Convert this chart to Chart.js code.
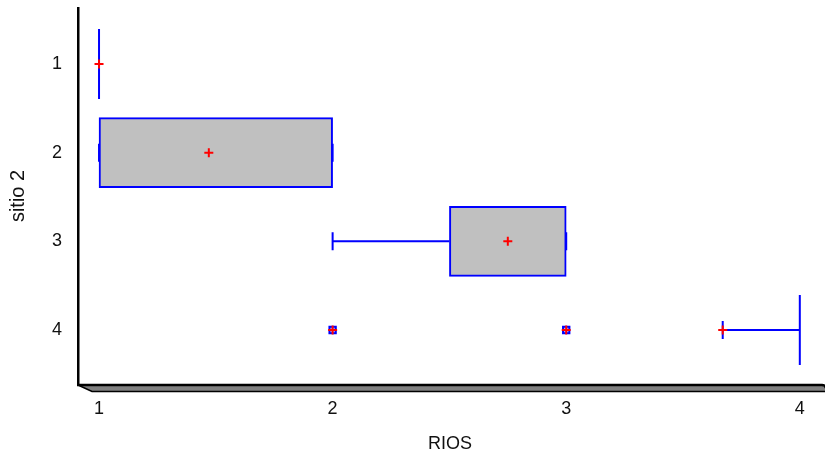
<!DOCTYPE html>
<html><head><meta charset="utf-8">
<script src="https://cdn.jsdelivr.net/npm/chart.js@4"></script>
<style>html,body{margin:0;padding:0;background:#fff;overflow:hidden}</style>
</head><body>
<canvas id="c" width="825" height="455"></canvas>
<script>
// ---- data ----
const sites = [1, 2, 3, 4];
const siteLabels = ['1', '2', '3', '4'];
const xTicks = [1, 2, 3, 4];
const q1 = [1, 1, 2.5, 4];
const q3 = [1, 2, 3, 4];
const whiskerLow = [1, 1, 2, 3.67];
const whiskerHigh = [1, 2, 3, 4];
const means = [1, 1.47, 2.75, 3.67];
const outlierSite = [4, 4];
const outlierValue = [2, 3];

const BLUE = '#0000FF';
const BOX_H = 70;
const CAP_H = 18;

const boxPlugin = {
  id: 'boxparts',
  beforeDatasetsDraw(chart) {
    const ctx = chart.ctx, xs = chart.scales.x, ys = chart.scales.y;
    ctx.save();
    ctx.strokeStyle = BLUE;
    ctx.lineWidth = 2;
    sites.forEach((s, i) => {
      const yc = ys.getPixelForValue(s);
      const px = v => xs.getPixelForValue(v);
      ctx.beginPath();
      if (whiskerLow[i] < q1[i]) { ctx.moveTo(px(whiskerLow[i]), yc); ctx.lineTo(px(q1[i]), yc); }
      if (whiskerHigh[i] > q3[i]) { ctx.moveTo(px(q3[i]), yc); ctx.lineTo(px(whiskerHigh[i]), yc); }
      ctx.moveTo(px(whiskerLow[i]), yc - CAP_H / 2); ctx.lineTo(px(whiskerLow[i]), yc + CAP_H / 2);
      ctx.moveTo(px(whiskerHigh[i]), yc - CAP_H / 2); ctx.lineTo(px(whiskerHigh[i]), yc + CAP_H / 2);
      if (q1[i] === q3[i]) { ctx.moveTo(px(q1[i]), yc - BOX_H / 2); ctx.lineTo(px(q1[i]), yc + BOX_H / 2); }
      ctx.stroke();
    });
    ctx.restore();
  },
  afterDraw(chart) {
    const ctx = chart.ctx;
    const {left, right, bottom} = chart.chartArea;
    const t = bottom + 1, b = bottom + 7.5;
    ctx.save();
    ctx.fillStyle = '#808080';
    ctx.beginPath();
    ctx.moveTo(left, t); ctx.lineTo(right, t); ctx.lineTo(right + 3, t + 3); ctx.lineTo(right + 3, b); ctx.lineTo(left + 14, b); ctx.closePath();
    ctx.fill();
    ctx.strokeStyle = '#000';
    ctx.lineWidth = 2.5;
    ctx.beginPath(); ctx.moveTo(left - 1, t); ctx.lineTo(right, t); ctx.quadraticCurveTo(right + 3, t, right + 4, t + 3); ctx.stroke();
    ctx.lineWidth = 1.5;
    ctx.beginPath(); ctx.moveTo(left, t); ctx.lineTo(left + 14, b); ctx.lineTo(right + 4, b); ctx.stroke();
    ctx.restore();
  }
};

const FONT = 'Liberation Sans, Arial, sans-serif';

new Chart(document.getElementById('c'), {
  type: 'bar',
  data: {
    datasets: [
      {
        type: 'scatter',
        data: means.map((m, i) => ({x: m, y: sites[i]})),
        pointStyle: 'cross', pointRadius: 4.5, borderColor: '#FF0000', borderWidth: 2,
        order: 0
      },
      {
        type: 'scatter',
        data: outlierValue.map((v, i) => ({x: v, y: outlierSite[i]})),
        pointStyle: 'cross', pointRadius: 4.5, borderColor: '#FF0000', borderWidth: 2,
        order: 1
      },
      {
        type: 'scatter',
        data: outlierValue.map((v, i) => ({x: v, y: outlierSite[i]})),
        pointStyle: 'rect', pointRadius: 4.5, borderColor: BLUE, backgroundColor: 'rgba(120,120,255,0.6)', borderWidth: 2,
        order: 2
      },
      {
        type: 'bar',
        indexAxis: 'y',
        data: sites.map((s, i) => ({x: [q1[i], q3[i]], y: s})),
        backgroundColor: '#C0C0C0', borderColor: BLUE, borderWidth: 2, borderSkipped: false,
        barThickness: BOX_H,
        order: 3
      }
    ]
  },
  options: {
    indexAxis: 'y',
    responsive: false,
    animation: false,
    devicePixelRatio: 1,
    events: [],
    layout: {autoPadding: false, padding: {top: 8, right: 3, left: 0, bottom: 0}},
    plugins: {legend: {display: false}, tooltip: {enabled: false}},
    scales: {
      x: {
        type: 'linear', position: 'bottom', min: 0.91, max: 4.095, offset: false,
        grid: {display: false, drawTicks: false}, border: {display: false},
        afterBuildTicks: s => { s.ticks = xTicks.map(v => ({value: v})); },
        afterFit: s => { s.height = 71; s.paddingLeft = 0; s.paddingRight = 0; },
        ticks: {font: {family: FONT, size: 18}, color: '#111', padding: 14, autoSkip: false, maxRotation: 0,
          callback: v => String(v)},
        title: {display: true, text: 'RIOS', font: {family: FONT, size: 18}, color: '#111', padding: {top: 0, bottom: 0}}
      },
      y: {
        type: 'linear', reverse: true, min: 0.368, max: 4.609, offset: false,
        grid: {display: false, offset: false, drawTicks: false}, border: {display: true, color: '#000', width: 2.5},
        afterBuildTicks: s => { s.ticks = sites.map(v => ({value: v})); },
        afterFit: s => { s.width = 78; s.paddingTop = 0; s.paddingBottom = 0; },
        ticks: {font: {family: FONT, size: 18}, color: '#111', padding: 16, autoSkip: false,
          callback: v => siteLabels[sites.indexOf(v)]},
        title: {display: true, text: 'sitio 2', font: {family: FONT, size: 20}, color: '#111', padding: {top: 6, bottom: 0}}
      }
    }
  },
  plugins: [boxPlugin]
});
</script>
</body></html>
